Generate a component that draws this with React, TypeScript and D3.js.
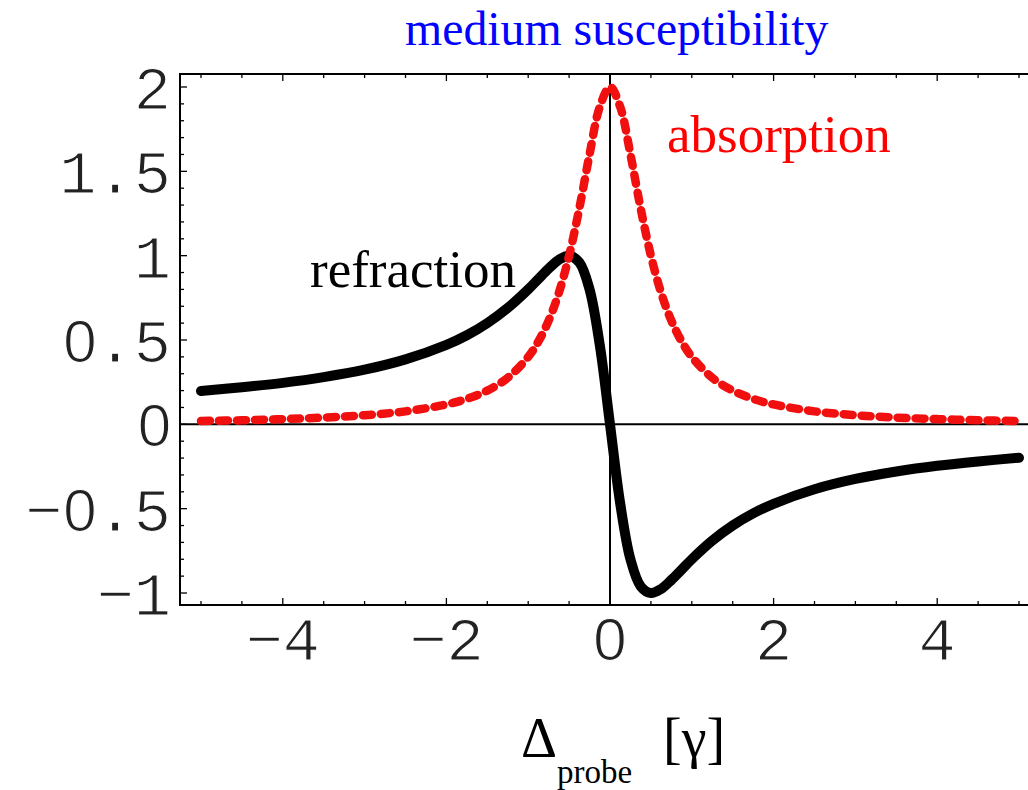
import React from "react";
import * as d3 from "d3";

const detuning = [-5, -4.5, -4, -3.5, -3, -2.5, -2, -1.75, -1.5, -1.25, -1, -0.875, -0.75, -0.625, -0.5, -0.375, -0.25, -0.125, 0,
  0.125, 0.25, 0.375, 0.5, 0.625, 0.75, 0.875, 1, 1.25, 1.5, 1.75, 2, 2.5, 3, 3.5, 4, 4.5, 5];
const absorption = [0.02, 0.024, 0.031, 0.04, 0.054, 0.077, 0.118, 0.151, 0.2, 0.276, 0.4, 0.492, 0.615, 0.78, 1.0, 1.28, 1.6, 1.882, 2.0,
  1.882, 1.6, 1.28, 1.0, 0.78, 0.615, 0.492, 0.4, 0.276, 0.2, 0.151, 0.118, 0.077, 0.054, 0.04, 0.031, 0.024, 0.02];
const refraction = [0.198, 0.22, 0.246, 0.28, 0.324, 0.385, 0.471, 0.528, 0.6, 0.69, 0.8, 0.862, 0.923, 0.976, 1.0, 0.96, 0.8, 0.47, 0,
  -0.47, -0.8, -0.96, -1.0, -0.976, -0.923, -0.862, -0.8, -0.69, -0.6, -0.528, -0.471, -0.385, -0.324, -0.28, -0.246, -0.22, -0.198];
const yTickLabels = ["2", "1.5", "1", "0.5", "0", "-0.5", "-1"];
const xTickLabels = ["-4", "-2", "0", "2", "4"];

const W = 1028, H = 790;

function TickText({ s, x, y, anchor }: { s: string; x: number; y: number; anchor: "end" | "middle" }) {
  const chars = s.replace("-", "\u2212").split("");
  return (
    <text x={x} y={y} textAnchor={anchor} fontFamily="Liberation Mono" fontSize={62}
      fill="#222" stroke="#fff" strokeWidth={1.2}>
      {chars.map((c, i) =>
        c === "0" ? (
          <tspan key={i} fontFamily="Liberation Sans" fontSize={60} dx={i === 0 ? 0 : 1}>{c}</tspan>
        ) : (
          <tspan key={i}>{c}</tspan>
        )
      )}
    </text>
  );
}

export default function App() {
  const x = d3.scaleLinear().domain([-5, 5]).range([201, 1019]);
  const y = d3.scaleLinear().domain([-1, 2]).range([593, 87]);
  const frameL = 180, frameT = 74, frameB = 605, frameR = 1040;

  const line = (vals: number[]) =>
    d3.line<number>().x((_, i) => x(detuning[i])).y((v) => y(v)).curve(d3.curveCatmullRom.alpha(0.5))(vals) || "";

  const yTicks = d3.range(-10, 21).map((k) => k / 10);
  const xTicks = d3.range(-10, 11).map((k) => k / 2);

  return (
    <svg width={W} height={H} style={{ position: "absolute", left: 0, top: 0, background: "#fff" }}>
      <rect x={0} y={0} width={W} height={H} fill="#fff" />
      <path d={`M${frameR},${frameT}H${frameL}V${frameB}H${frameR}`} fill="none" stroke="#000" strokeWidth={2} />
      {yTicks.map((t) => {
        const major = Math.abs(t * 2 - Math.round(t * 2)) < 1e-6;
        return <line key={"yt" + t} x1={frameL} x2={frameL + (major ? 7 : 4)} y1={y(t)} y2={y(t)} stroke="#000" strokeWidth={1.3} />;
      })}
      {xTicks.map((t) => {
        const major = Math.abs(t % 2) < 1e-6;
        const len = major ? 7 : 4;
        return (
          <g key={"xt" + t}>
            <line x1={x(t)} x2={x(t)} y1={frameB} y2={frameB - len} stroke="#000" strokeWidth={1.3} />
            <line x1={x(t)} x2={x(t)} y1={frameT} y2={frameT + len} stroke="#000" strokeWidth={1.3} />
          </g>
        );
      })}
      <line x1={x(0)} x2={x(0)} y1={frameT} y2={frameB} stroke="#000" strokeWidth={2} />
      <line x1={frameL} x2={frameR} y1={y(0)} y2={y(0)} stroke="#000" strokeWidth={2} />
      {yTickLabels.map((s) => (
        <TickText key={"yl" + s} s={s} x={171} y={y(+s) + 22} anchor="end" />
      ))}
      {xTickLabels.map((s) => (
        <TickText key={"xl" + s} s={s} x={x(+s)} y={660} anchor="middle" />
      ))}
      <path d={line(refraction)} fill="none" stroke="#000" strokeWidth={10} strokeLinecap="round" strokeLinejoin="round" />
      <path d={line(absorption)} fill="none" stroke="#f01010" strokeWidth={8.5} strokeDasharray="9 9" strokeLinecap="round" strokeLinejoin="round" />
      <text x={405} y={45} fontFamily="Liberation Serif" fontSize={47.8} fill="#0000ff">medium susceptibility</text>
      <text x={667} y={152} fontFamily="Liberation Serif" fontSize={53} fill="#ff0000">absorption</text>
      <text x={310} y={287} fontFamily="Liberation Serif" fontSize={53} fill="#000">refraction</text>
      <text x={521} y={757} fontFamily="Liberation Serif" fontSize={56} fill="#000">Δ</text>
      <text x={557} y={783} fontFamily="Liberation Serif" fontSize={33} fill="#000">probe</text>
      <text x={663} y={757} fontFamily="Liberation Serif" fontSize={56} fill="#000">[γ]</text>
    </svg>
  );
}
